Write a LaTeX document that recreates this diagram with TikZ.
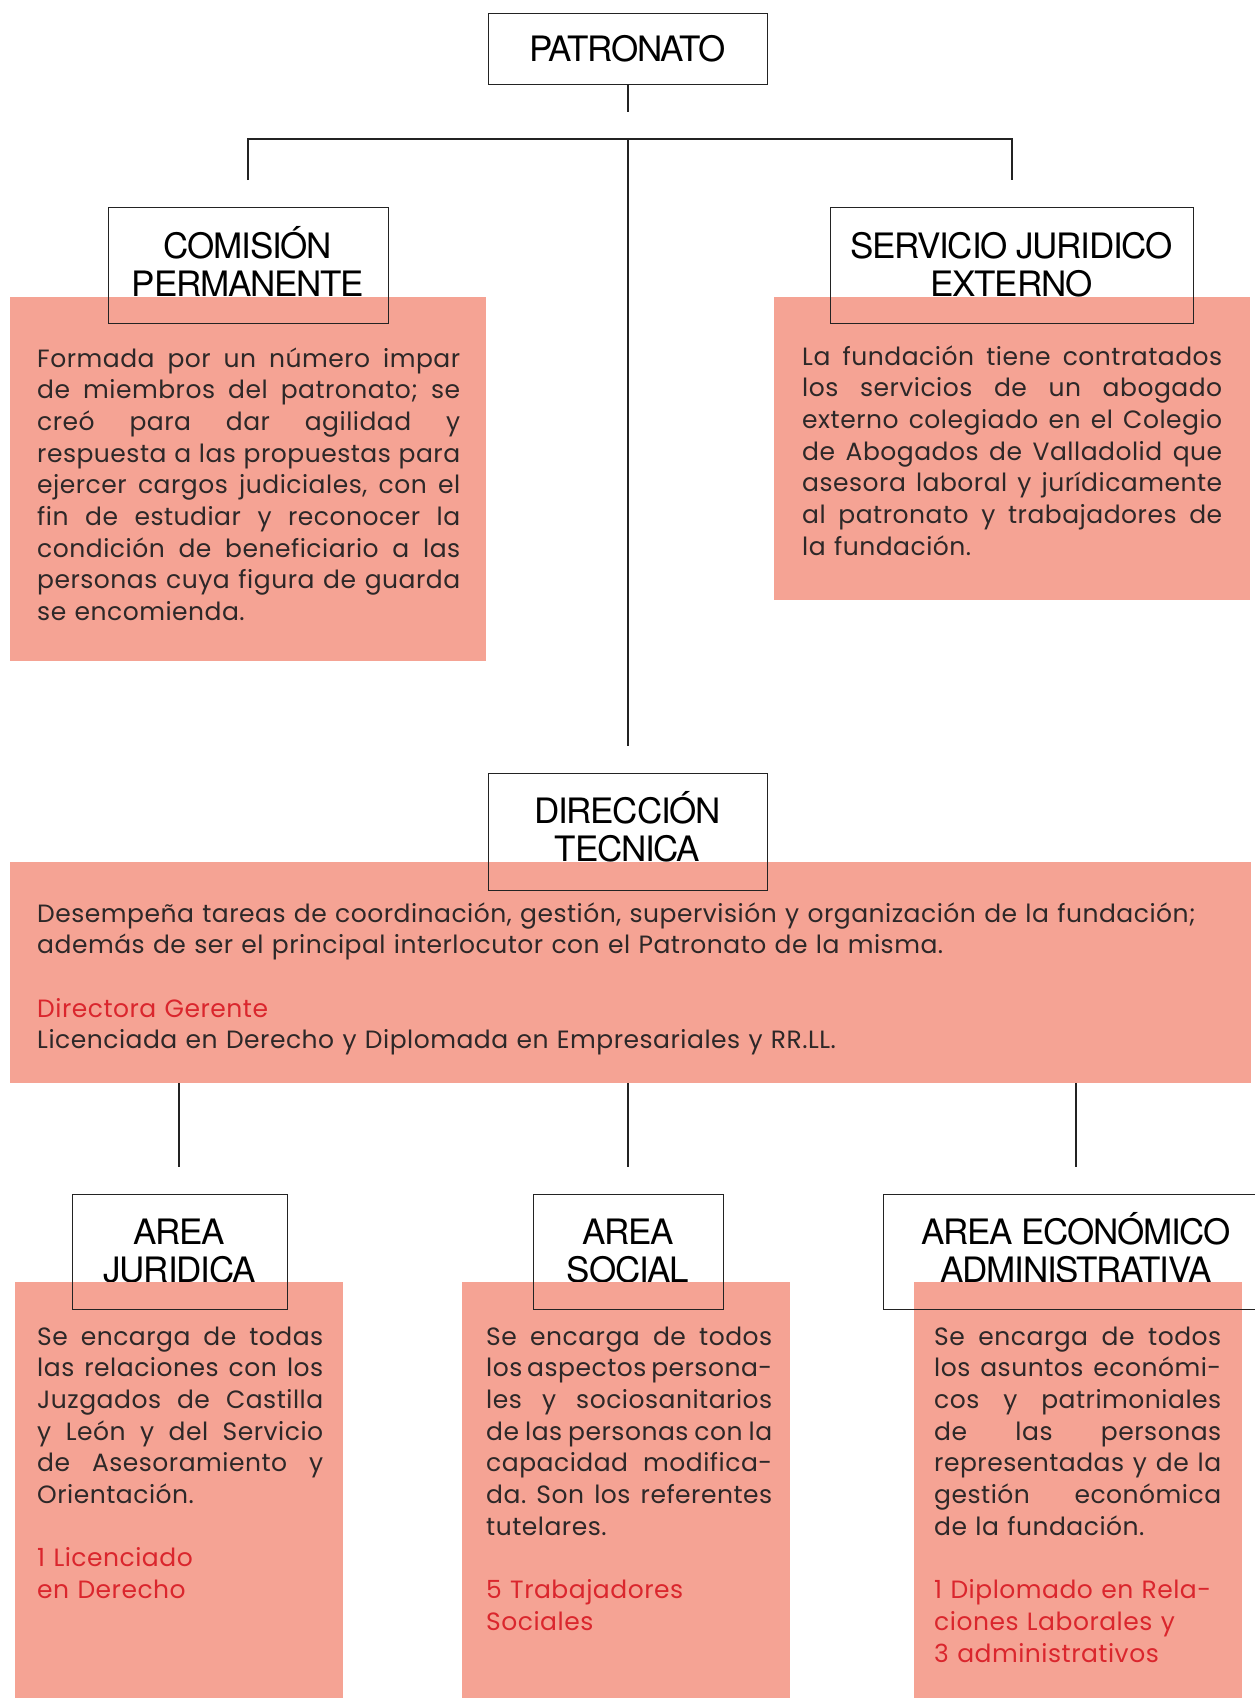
\documentclass[tikz,border=0pt]{standalone}
\usepackage{fontspec}
\setmainfont{Poppins}[LetterSpace=2.0]
\newfontfamily\headfont[LetterSpace=-3.5]{TeX Gyre Heros}
\definecolor{salmon}{RGB}{245,163,148}
\definecolor{inkred}{RGB}{218,38,45}
\definecolor{ink}{RGB}{45,40,40}
\definecolor{frame}{RGB}{35,35,35}
\newcommand{\jl}[1]{\makebox[\hsize][s]{\spaceskip=0pt\xspaceskip=0pt#1}\\}% one justified line

\begin{document}
\begin{tikzpicture}[x=1pt, y=-1pt,
  hbox/.style={draw=frame, line width=1.2pt, inner sep=0pt, anchor=north west},
  head/.style={font=\headfont\fontsize{35}{38}\selectfont, align=center, anchor=base, inner sep=0pt},
  panel/.style={fill=salmon, inner sep=0pt, anchor=north west},
  body/.style={font=\fontsize{25}{31.7}\selectfont\frenchspacing, text=ink, align=left, anchor=base west, inner sep=0pt},
  link/.style={draw=frame, line width=1.2pt}]
  \useasboundingbox (0,0) rectangle (1255,1698);
  % headings (behind the panels), placed at their last baseline
  \node[head] (patronatolbl) at (627.5,61) {PATRONATO};
  \node[head] (comisionlbl) at (248,296) {COMISIÓN\\PERMANENTE};
  \node[head] (serviciolbl) at (1011.5,296) {SERVICIO JURIDICO\\EXTERNO};
  \node[head] (direccionlbl) at (627.5,861) {DIRECCIÓN\\TECNICA};
  \node[head] (ajurlbl) at (179.5,1282) {AREA\\JURIDICA};
  \node[head] (asoclbl) at (628,1282) {AREA\\SOCIAL};
  \node[head] (aecolbl) at (1076,1282) {AREA ECONÓMICO\\ADMINISTRATIVA};
  % panels
  \node[panel, minimum width=476, minimum height=364] (comisionbg) at (10,297) {};
  \node[panel, minimum width=476, minimum height=303] (serviciobg) at (774,297) {};
  \node[panel, minimum width=1241, minimum height=221] (direccionbg) at (10,862) {};
  \node[panel, minimum width=328, minimum height=420] (ajurbg) at (15,1282) {};
  \node[panel, minimum width=328, minimum height=420] (asocbg) at (462,1282) {};
  \node[panel, minimum width=328, minimum height=420] (aecobg) at (914,1282) {};
  % frames
  \node[hbox, minimum width=279, minimum height=71] (patronato) at (488,13) {};
  \node[hbox, minimum width=280, minimum height=116] (comision) at (108,207) {};
  \node[hbox, minimum width=363, minimum height=116] (servicio) at (830,207) {};
  \node[hbox, minimum width=279, minimum height=117] (direccion) at (488,773) {};
  \node[hbox, minimum width=215, minimum height=115] (ajur) at (72,1194) {};
  \node[hbox, minimum width=190, minimum height=115] (asoc) at (533,1194) {};
  \node[hbox, minimum width=390, minimum height=115] (aeco) at (883,1194) {};
  % texts
  \node[body, text width=423] (comisiontxt) at (37,367) {%
    \jl{Formada por un número impar}
    \jl{de miembros del patronato; se}
    \jl{creó para dar agilidad y}
    \jl{respuesta a las propuestas para}
    \jl{ejercer cargos judiciales, con el}
    \jl{fin de estudiar y reconocer la}
    \jl{condición de beneficiario a las}
    \jl{personas cuya figura de guarda}
    se encomienda.};
  \node[body, text width=420] (serviciotxt) at (802,365) {%
    \jl{La fundación tiene contratados}
    \jl{los servicios de un abogado}
    \jl{externo colegiado en el Colegio}
    \jl{de Abogados de Valladolid que}
    \jl{asesora laboral y jurídicamente}
    \jl{al patronato y trabajadores de}
    la fundación.};
  \node[body, text width=1200] (direcciontxt) at (37,922) {%
    Desempeña tareas de coordinación, gestión, supervisión y organización de la fundación;\\
    además de ser el principal interlocutor con el Patronato de la misma.\\[31.7pt]
    {\color{inkred}Directora Gerente}\\
    Licenciada en Derecho y Diplomada en Empresariales y RR.LL.};
  \node[body, text width=286] (ajurtxt) at (37,1345) {%
    \jl{Se encarga de todas}
    \jl{las relaciones con los}
    \jl{Juzgados de Castilla}
    \jl{y León y del Servicio}
    \jl{de Asesoramiento y}
    Orientación.\\[31.7pt]
    {\color{inkred}1 Licenciado\\en Derecho}};
  \node[body, text width=286] (asoctxt) at (486,1345) {%
    \jl{Se encarga de todos}
    \jl{los aspectos persona-}
    \jl{les y sociosanitarios}
    \jl{de las personas con la}
    \jl{capacidad modifica-}
    \jl{da. Son los referentes}
    tutelares.\\[31.7pt]
    {\color{inkred}5 Trabajadores\\Sociales}};
  \node[body, text width=287] (aecotxt) at (934,1345) {%
    \jl{Se encarga de todos}
    \jl{los asuntos económi-}
    \jl{cos y patrimoniales}
    \jl{de las personas}
    \jl{representadas y de la}
    \jl{gestión económica}
    de la fundación.\\[31.7pt]
    {\color{inkred}1 Diplomado en Rela-\\ciones Laborales y\\3 administrativos}};
  % connectors
  \coordinate (stub) at (628,112);
  \coordinate (barL) at (248,180);
  \coordinate (barR) at (1012,180);
  \coordinate (barM) at (628,139);
  \coordinate (dirtop) at (628,746);
  \coordinate (jurtop) at (179,1167);
  \coordinate (soctop) at (628,1167);
  \coordinate (ecotop) at (1076,1167);
  \draw[link] (patronato.south -| stub) -- (stub);
  \draw[link] (barL) -- ++(0,-41) -| (barR);
  \draw[link] (barM) -- (dirtop);
  \foreach \t in {jurtop,soctop,ecotop}
    \draw[link] (direccionbg.south -| \t) -- (\t);
\end{tikzpicture}
\end{document}
